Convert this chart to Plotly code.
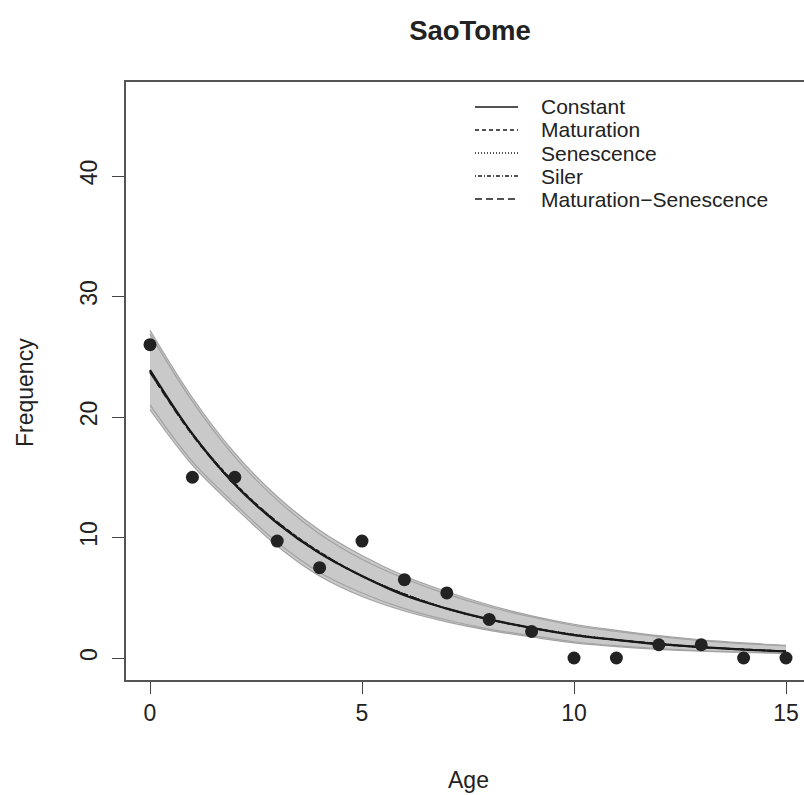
import plotly.graph_objects as go

# ---------------- data ----------------
ages = list(range(16))
observed = [26.0, 15.0, 15.0, 9.7, 7.5, 9.7, 6.5, 5.4, 3.2, 2.2, 0.0, 0.0, 1.1, 1.1, 0.0, 0.0]

constant = [23.9, 18.6, 14.4, 11.2, 8.7, 6.8, 5.2, 4.1, 3.2, 2.5, 1.9, 1.5, 1.15, 0.9, 0.7, 0.54]
maturation = [23.7, 18.6, 14.5, 11.3, 8.8, 6.8, 5.3, 4.1, 3.2, 2.5, 1.9, 1.5, 1.15, 0.9, 0.7, 0.55]
senescence = [23.8, 18.5, 14.4, 11.2, 8.7, 6.8, 5.3, 4.1, 3.2, 2.5, 1.95, 1.5, 1.2, 0.9, 0.7, 0.55]
siler = [23.8, 18.6, 14.5, 11.2, 8.8, 6.8, 5.3, 4.1, 3.2, 2.5, 1.95, 1.5, 1.15, 0.9, 0.72, 0.56]
mat_sen = [23.7, 18.5, 14.4, 11.3, 8.7, 6.8, 5.3, 4.1, 3.2, 2.5, 1.9, 1.5, 1.2, 0.9, 0.72, 0.56]

band1_upper = [27.2, 21.6, 17.0, 13.4, 10.6, 8.5, 6.8, 5.5, 4.4, 3.5, 2.8, 2.3, 1.85, 1.5, 1.25, 1.05]
band1_lower = [20.6, 16.0, 12.5, 9.3, 6.8, 5.1, 3.9, 3.0, 2.3, 1.75, 1.25, 0.95, 0.72, 0.56, 0.46, 0.38]
band2_upper = [26.9, 21.3, 16.7, 13.1, 10.3, 8.2, 6.6, 5.3, 4.25, 3.4, 2.7, 2.2, 1.78, 1.45, 1.2, 1.0]
band2_lower = [21.0, 16.3, 12.8, 9.6, 7.1, 5.4, 4.1, 3.15, 2.4, 1.85, 1.35, 1.02, 0.78, 0.6, 0.5, 0.42]

x_ticks = [0, 5, 10, 15]
y_ticks = [0, 10, 20, 30, 40]

series = [
    ("Constant", constant, "solid", 2.2),
    ("Maturation", maturation, "4px,3px", 1.5),
    ("Senescence", senescence, "1px,2px", 1.5),
    ("Siler", siler, "1px,2px,4px,2px", 1.5),
    ("Maturation\u2212Senescence", mat_sen, "7px,4px", 1.5),
]

FONT = "Liberation Sans, Arial, Helvetica, sans-serif"
FS = 23
LEG_FS = 21
fig = go.Figure()

# confidence bands (lower edge, then upper edge filled down to it)
for up, lo in [(band1_upper, band1_lower), (band2_upper, band2_lower)]:
    fig.add_trace(go.Scatter(
        x=ages, y=lo, mode="lines",
        line=dict(color="#a3a3a3", width=1.2, shape="spline"),
        hoverinfo="skip", showlegend=False))
    fig.add_trace(go.Scatter(
        x=ages, y=up, mode="lines", fill="tonexty", fillcolor="#c9c9c9",
        line=dict(color="#a3a3a3", width=1.2, shape="spline"),
        hoverinfo="skip", showlegend=False))

# fitted curves
for name, vals, dash, w in series:
    fig.add_trace(go.Scatter(
        x=ages, y=vals, mode="lines", name=name,
        line=dict(color="#1a1a1a", width=w, dash=dash, shape="spline"),
        showlegend=False))

# observed points
fig.add_trace(go.Scatter(
    x=ages, y=observed, mode="markers", name="Observed",
    marker=dict(color="#222222", size=13), showlegend=False))

# manual legend (R style)
L, T = 126, 82
W, H = 678, 598
def px(xp):
    return (xp - L) / W
def py(yp):
    return (T + H - yp) / H
row_y = [107, 130, 153, 176, 199]
for (name, vals, dash, w), yy in zip(series, row_y):
    fig.add_shape(type="line", xref="paper", yref="paper",
                  x0=px(475), x1=px(518), y0=py(yy), y1=py(yy),
                  line=dict(color="#1a1a1a", width=1.4, dash=dash))
    fig.add_annotation(xref="paper", yref="paper", x=px(540), y=py(yy),
                       text=name, showarrow=False, xanchor="left", yanchor="middle",
                       borderpad=0,
                       font=dict(family=FONT, size=LEG_FS, color="#222222"))

# axis titles
fig.add_annotation(xref="paper", yref="paper", x=px(468), y=py(780), text="Age",
                   showarrow=False, xanchor="center", yanchor="middle",
                   font=dict(family=FONT, size=FS, color="#222222"))
fig.add_annotation(xref="paper", yref="paper", x=px(25), y=py(393), text="Frequency",
                   showarrow=False, xanchor="center", yanchor="middle", textangle=-90,
                   font=dict(family=FONT, size=FS, color="#222222"))

fig.update_layout(
    width=804, height=795,
    margin=dict(l=L, r=0, t=T, b=795 - T - H, pad=0),
    paper_bgcolor="white", plot_bgcolor="white",
    title=dict(text="<b>SaoTome</b>", x=470 / 804, xanchor="center", y=1 - 30 / 795,
               yanchor="middle", xref="container",
               font=dict(family=FONT, size=27.5, color="#222222")),
    font=dict(family=FONT, size=FS, color="#222222"),
    xaxis=dict(range=[-24 / 42.4, 654 / 42.4], tickvals=x_ticks, ticks="outside",
               ticklen=12, tickwidth=1.3, tickcolor="#444", showline=True, mirror=True,
               linecolor="#555", linewidth=1.5, showgrid=False, zeroline=False,
               tickfont=dict(family=FONT, size=FS, color="#222222")),
    yaxis=dict(range=[-22 / 12.05, 576 / 12.05], tickvals=y_ticks, ticks="outside",
               ticklen=12, tickwidth=1.3, tickcolor="#444", showline=True, mirror=False,
               linecolor="#555", linewidth=1.5, showgrid=False, zeroline=False,
               tickangle=-90, ticklabelstandoff=6,
               tickfont=dict(family=FONT, size=FS, color="#222222")),
)

fig.write_html("out.html")
